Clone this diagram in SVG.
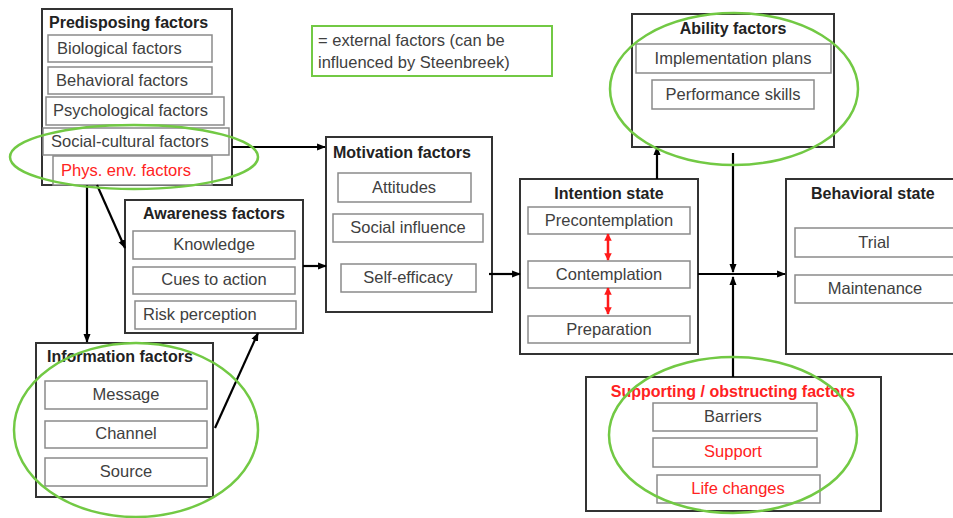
<svg xmlns="http://www.w3.org/2000/svg" width="953" height="518" viewBox="0 0 953 518">
<defs>
<marker id="ah" viewBox="0 0 10 10" refX="9" refY="5" markerWidth="4" markerHeight="4" orient="auto-start-reverse" markerUnits="strokeWidth">
<path d="M0,1 L10,5 L0,9 z" fill="#000"/>
</marker>
<marker id="rh" viewBox="0 0 10 10" refX="9" refY="5" markerWidth="3" markerHeight="3" orient="auto-start-reverse" markerUnits="strokeWidth">
<path d="M0,0 L10,5 L0,10 z" fill="#ff1a1a"/>
</marker>
<style>
.outer{fill:#fff;stroke:#333;stroke-width:2}
.inner{fill:#fff;stroke:#8a8a8a;stroke-width:1.5}
.t{font-family:"Liberation Sans",Arial,sans-serif;font-size:16.5px;fill:#404040}
.c{text-anchor:middle}
.h{font-family:"Liberation Sans",Arial,sans-serif;font-size:16px;font-weight:bold;fill:#222}
.red{fill:#ff2222}
.ell{fill:none;stroke:#72c944;stroke-width:2.5}
.ln{fill:none;stroke:#000;stroke-width:2.2}
.rl{fill:none;stroke:#ff1a1a;stroke-width:2.5}
</style>
</defs>
<rect width="953" height="518" fill="#fff"/>

<g id="predisposing">
<rect class="outer" x="42" y="9" width="190" height="176"/>
<text class="h" x="49" y="28">Predisposing factors</text>
<rect class="inner" x="48" y="35" width="164" height="27"/>
<text class="t" x="57" y="54">Biological factors</text>
<rect class="inner" x="48" y="67" width="164" height="27"/>
<text class="t" x="56" y="86">Behavioral factors</text>
<rect class="inner" x="46" y="97" width="178" height="28"/>
<text class="t" x="53" y="116">Psychological factors</text>
<rect class="inner" x="43" y="128" width="186" height="27"/>
<text class="t" x="51" y="147">Social-cultural factors</text>
<rect class="inner" x="53" y="156" width="159" height="29"/>
<text class="t red" x="61" y="176">Phys. env. factors</text>
</g>

<g id="legend">
<rect x="312" y="26" width="240" height="50" fill="#fff" stroke="#72c944" stroke-width="2"/>
<text class="t" x="318" y="46">= external factors (can be</text>
<text class="t" x="318" y="68">influenced by Steenbreek)</text>
</g>

<g id="awareness">
<rect class="outer" x="125" y="200" width="178" height="133"/>
<text class="h c" x="214" y="219">Awareness factors</text>
<rect class="inner" x="133" y="231" width="162" height="28"/>
<text class="t c" x="214" y="250">Knowledge</text>
<rect class="inner" x="133" y="267" width="162" height="27"/>
<text class="t c" x="214" y="285">Cues to action</text>
<rect class="inner" x="135" y="301" width="161" height="28"/>
<text class="t" x="143" y="320">Risk perception</text>
</g>

<g id="information">
<rect class="outer" x="36" y="343" width="177" height="154"/>
<text class="h" x="47" y="362">Information factors</text>
<rect class="inner" x="45" y="381" width="162" height="28"/>
<text class="t c" x="126" y="400">Message</text>
<rect class="inner" x="45" y="421" width="162" height="27"/>
<text class="t c" x="126" y="439">Channel</text>
<rect class="inner" x="45" y="458" width="162" height="28"/>
<text class="t c" x="126" y="477">Source</text>
</g>

<g id="motivation">
<rect class="outer" x="326" y="137" width="166" height="175"/>
<text class="h" x="333" y="158">Motivation factors</text>
<rect class="inner" x="338" y="173" width="133" height="29"/>
<text class="t c" x="404" y="193">Attitudes</text>
<rect class="inner" x="333" y="214" width="150" height="28"/>
<text class="t c" x="408" y="233">Social influence</text>
<rect class="inner" x="341" y="264" width="135" height="28"/>
<text class="t c" x="408" y="283">Self-efficacy</text>
</g>

<g id="intention">
<rect class="outer" x="520" y="179" width="178" height="175"/>
<text class="h c" x="609" y="199">Intention state</text>
<rect class="inner" x="528" y="207" width="162" height="27"/>
<text class="t c" x="609" y="226">Precontemplation</text>
<rect class="inner" x="528" y="261" width="162" height="27"/>
<text class="t c" x="609" y="280">Contemplation</text>
<rect class="inner" x="528" y="316" width="162" height="27"/>
<text class="t c" x="609" y="335">Preparation</text>
</g>

<g id="ability">
<rect class="outer" x="632" y="14" width="202" height="133"/>
<text class="h c" x="733" y="34">Ability factors</text>
<rect class="inner" x="636" y="44" width="195" height="29"/>
<text class="t c" x="733" y="64">Implementation plans</text>
<rect class="inner" x="652" y="80" width="162" height="29"/>
<text class="t c" x="733" y="100">Performance skills</text>
</g>

<g id="behavioral">
<rect class="outer" x="786" y="179" width="180" height="175"/>
<text class="h" x="811" y="199">Behavioral state</text>
<rect class="inner" x="795" y="228" width="170" height="29"/>
<text class="t c" x="874" y="248">Trial</text>
<rect class="inner" x="795" y="275" width="170" height="28"/>
<text class="t c" x="875" y="294">Maintenance</text>
</g>

<g id="supporting">
<rect class="outer" x="586" y="377" width="295" height="134"/>
<text class="h c red" x="733" y="397">Supporting / obstructing factors</text>
<rect class="inner" x="653" y="403" width="164" height="28"/>
<text class="t c" x="733" y="422">Barriers</text>
<rect class="inner" x="653" y="438" width="164" height="29"/>
<text class="t c red" x="733" y="457">Support</text>
<rect class="inner" x="657" y="475" width="163" height="28"/>
<text class="t c red" x="738" y="494">Life changes</text>
</g>

<g id="connectors">
<line class="ln" x1="232" y1="147" x2="325" y2="147" marker-end="url(#ah)"/>
<line class="ln" x1="97" y1="185" x2="125" y2="248" marker-end="url(#ah)"/>
<line class="ln" x1="87" y1="185" x2="87" y2="342" marker-end="url(#ah)"/>
<line class="ln" x1="215" y1="428" x2="258" y2="333" marker-end="url(#ah)"/>
<line class="ln" x1="303" y1="266" x2="326" y2="266" marker-end="url(#ah)"/>
<line class="ln" x1="489" y1="274" x2="520" y2="274" marker-end="url(#ah)"/>
<line class="ln" x1="657" y1="179" x2="657" y2="147" marker-end="url(#ah)"/>
<line class="ln" x1="698" y1="274" x2="785" y2="274" marker-end="url(#ah)"/>
<line class="ln" x1="733" y1="153" x2="733" y2="272" marker-end="url(#ah)"/>
<line class="ln" x1="733" y1="377" x2="733" y2="277" marker-end="url(#ah)"/>
<line class="rl" x1="608" y1="234" x2="608" y2="260" marker-start="url(#rh)" marker-end="url(#rh)"/>
<line class="rl" x1="608" y1="288" x2="608" y2="314" marker-start="url(#rh)" marker-end="url(#rh)"/>
</g>

<g id="highlights">
<ellipse class="ell" cx="134" cy="157" rx="124" ry="32"/>
<ellipse class="ell" cx="136" cy="430" rx="122" ry="87"/>
<ellipse class="ell" cx="734" cy="89" rx="124" ry="76"/>
<ellipse class="ell" cx="733" cy="435" rx="124" ry="78"/>
</g>
</svg>
